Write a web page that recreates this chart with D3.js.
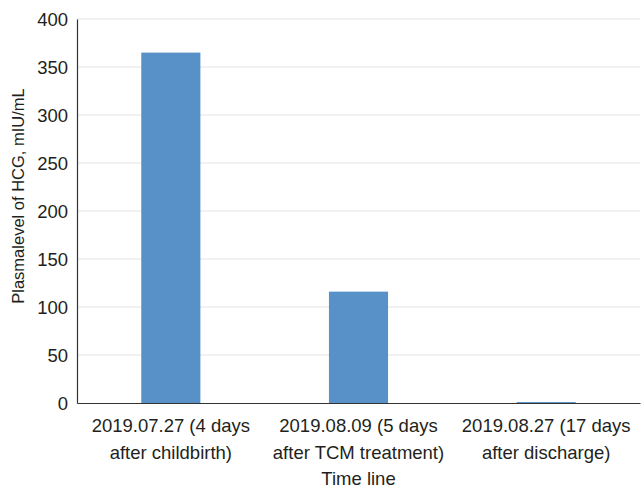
<!DOCTYPE html>
<html>
<head>
<meta charset="utf-8">
<script src="https://cdn.jsdelivr.net/npm/d3@7"></script>
<style>
  html, body { margin: 0; padding: 0; background: #fff; }
  svg text { font-family: "Liberation Sans", Arial, Helvetica, sans-serif; fill: #231f20; }
</style>
</head>
<body>
<svg id="chart" width="641" height="489"></svg>
<script>
// Plasma HCG level at three time points
const categories = [
  ["2019.07.27 (4 days", "after childbirth)"],
  ["2019.08.09 (5 days", "after TCM treatment)"],
  ["2019.08.27 (17 days", "after discharge)"]
];
const hcgValues = [365, 116, 1];
const yTicks = [0, 50, 100, 150, 200, 250, 300, 350, 400];

const W = 641, H = 489;
const margin = { top: 19, right: 1, bottom: 86, left: 77 };
const innerW = W - margin.left - margin.right;
const innerH = H - margin.top - margin.bottom;
const fs = 18.5;

const svg = d3.select("#chart");
const g = svg.append("g").attr("transform", `translate(${margin.left},${margin.top})`);

const x = d3.scaleBand().domain(d3.range(categories.length)).range([0, innerW]).padding(0);
const y = d3.scaleLinear().domain([0, 400]).range([innerH, 0]);
const barW = x.bandwidth() * 0.315;

// Horizontal gridlines
g.append("g").selectAll("line").data(yTicks.filter(d => d > 0)).join("line")
  .attr("x1", 0).attr("x2", innerW)
  .attr("y1", d => y(d)).attr("y2", d => y(d))
  .attr("stroke", "#e3e3e3").attr("stroke-width", 1);

// Bars
g.append("g").selectAll("rect").data(hcgValues).join("rect")
  .attr("x", (d, i) => x(i) + (x.bandwidth() - barW) / 2)
  .attr("y", d => y(d))
  .attr("width", barW)
  .attr("height", d => innerH - y(d))
  .attr("fill", "#5891c8");

// Y axis
const yAxis = g.append("g").call(d3.axisLeft(y).tickValues(yTicks).tickSize(0).tickPadding(9));
yAxis.select(".domain").attr("stroke", "#333").attr("stroke-width", 1.2);
yAxis.selectAll("text").attr("font-size", fs).attr("dy", "0.36em").style("fill", "#231f20");

// X axis
const xAxis = g.append("g").attr("transform", `translate(0,${innerH})`)
  .call(d3.axisBottom(x).tickSize(0).tickFormat(""));
xAxis.select(".domain").attr("stroke", "#333").attr("stroke-width", 1.2);
xAxis.selectAll(".tick").each(function(d) {
  const t = d3.select(this).append("text")
    .attr("text-anchor", "middle").attr("font-size", fs).style("fill", "#231f20");
  categories[d].forEach((line, k) => {
    t.append("tspan").attr("x", 0).attr("y", 28.5 + k * 27).text(line);
  });
});

// Axis titles
svg.append("text")
  .attr("x", margin.left + innerW / 2).attr("y", 485)
  .attr("text-anchor", "middle").attr("font-size", fs)
  .text("Time line");

svg.append("text")
  .attr("transform", "translate(24,196) rotate(-90)")
  .attr("text-anchor", "middle").attr("font-size", 16.5)
  .text("Plasmalevel of HCG, mIU/mL");
</script>
</body>
</html>
